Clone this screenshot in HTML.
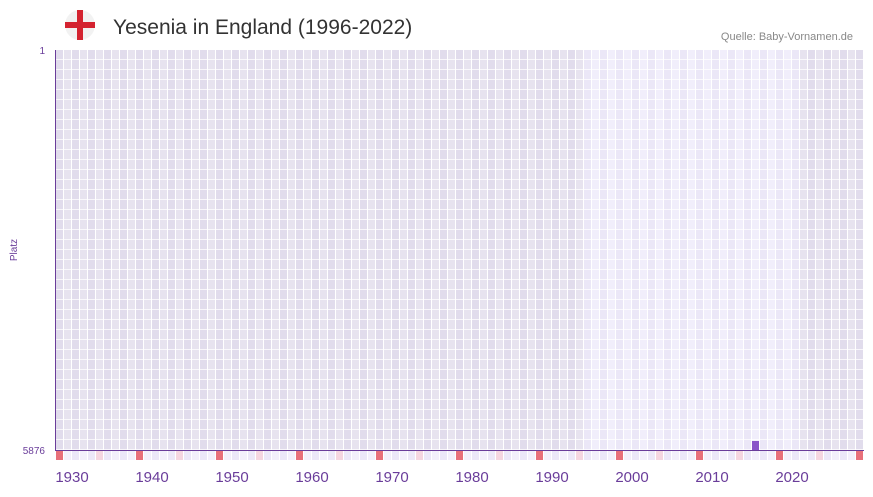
<!DOCTYPE html>
<html><head><meta charset="utf-8"><style>
body{margin:0;background:#fff;width:873px;height:492px;overflow:hidden;font-family:"Liberation Sans",sans-serif}
</style></head><body>
<svg id="s" width="873" height="492" xmlns="http://www.w3.org/2000/svg">
<circle cx="80" cy="25" r="15" fill="#f2f2f2"/>
<rect x="77" y="10" width="6" height="30" fill="#d42330"/>
<rect x="65" y="22" width="30" height="6" fill="#d42330"/>
<text x="113" y="34" font-size="21" fill="#333">Yesenia in England (1996-2022)</text>
<text x="853" y="40" font-size="11" fill="#888" text-anchor="end">Quelle: Baby-Vornamen.de</text>
<g id="g"></g>
<line x1="55.5" y1="50" x2="55.5" y2="451" stroke="#6a3d9a" stroke-width="1"/>
<line x1="55" y1="450.5" x2="864" y2="450.5" stroke="#6a3d9a" stroke-width="1"/>
<rect x="752" y="441" width="7" height="9" fill="#8a55c8"/>
<text x="45" y="54" font-size="10" fill="#6a3d9a" text-anchor="end">1</text>
<text x="45" y="454" font-size="10" fill="#6a3d9a" text-anchor="end">5876</text>
<text x="17" y="250" font-size="10" fill="#6a3d9a" text-anchor="middle" transform="rotate(-90 17 250)">Platz</text>
<g font-size="15" fill="#6a3d9a" text-anchor="middle">
<text x="72" y="482">1930</text><text x="152" y="482">1940</text><text x="232" y="482">1950</text><text x="312" y="482">1960</text><text x="392" y="482">1970</text><text x="472" y="482">1980</text><text x="552" y="482">1990</text><text x="632" y="482">2000</text><text x="712" y="482">2010</text><text x="792" y="482">2020</text>
</g>
</svg>
<script>
var g=document.getElementById('g'),h='';
for(var i=0;i<101;i++){var x=56+i*8;if(x>=864)break;var light=(x>=584&&x<800);
var c=light?(i%2?'#f1eefb':'#ebe7f7'):(i%2?'#e7e3ef':'#e1dcec');
h+='<rect x="'+x+'" y="50" width="7" height="400" fill="'+c+'"/>';
var b=(i%10==0)?'#e8707a':(i%10==5)?'#f5d6e0':(i%2?'#f3f0fb':'#ece8f8');
h+='<rect x="'+x+'" y="451" width="7" height="9" fill="'+b+'"/>';}
for(var y=59;y<450;y+=10)h+='<rect x="56" y="'+y+'" width="808" height="1" fill="#fff" opacity="0.75"/>';
g.innerHTML=h;
</script>
</body></html>
